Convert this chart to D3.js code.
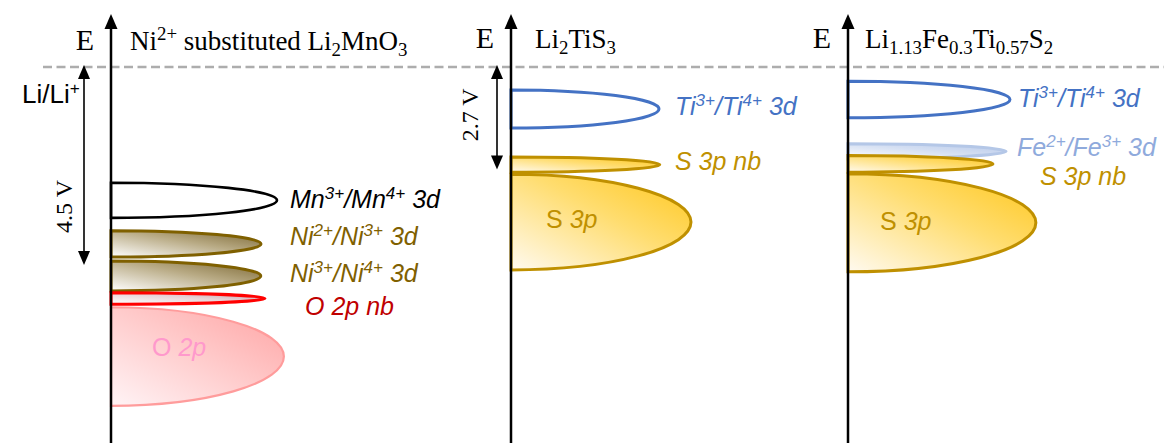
<!DOCTYPE html>
<html>
<head>
<meta charset="utf-8">
<script src="https://cdn.jsdelivr.net/npm/d3@7"></script>
<style>
  body { margin: 0; background: #fff; }
  svg { display: block; }
</style>
</head>
<body>
<svg id="chart" width="1164" height="443"></svg>
<script>
// ---- data ----------------------------------------------------------
// Rich-text markup: ^{..} superscript, _{..} subscript, *..* italic
const panelTitles = [
  "Ni^{2+} substituted Li_{2}MnO_{3}",
  "Li_{2}TiS_{3}",
  "Li_{1.13}Fe_{0.3}Ti_{0.57}S_{2}"
];
// cell voltage vs Li/Li+ (V), null = no arrow
const cellVoltages = [4.5, 2.7, null];
// energy (V) at which each voltage label is centred
const voltageLabelAt = [3.17, 1.26, null];

// band labels per panel
const bandNames = [
  ["*Mn^{3+}/Mn^{4+} 3d*", "*Ni^{2+}/Ni^{3+} 3d*", "*Ni^{3+}/Ni^{4+} 3d*", "*O 2p nb*", "O *2p*"],
  ["*Ti^{3+}/Ti^{4+} 3d*", "*S 3p nb*", "S *3p*"],
  ["*Ti^{3+}/Ti^{4+} 3d*", "*Fe^{2+}/Fe^{3+} 3d*", "*S 3p nb*", "S *3p*"]
];
// band kinds (select fill / stroke / label colour)
const bandKinds = [
  ["mn", "ni", "ni", "onb", "o2p"],
  ["ti", "snb", "s3p"],
  ["ti", "fe", "snb", "s3p"]
];
// band centre, energy below Li/Li+ (V)
const bandCenters = [
  [3.03, 4.02, 4.75, 5.26, 6.58],
  [1.105, 2.57, 4.08],
  [0.855, 2.22, 2.55, 4.10]
];
// band half-spread in energy (V)
const bandSpreads = [
  [0.40, 0.30, 0.34, 0.13, 1.12],
  [0.50, 0.20, 1.26],
  [0.48, 0.20, 0.22, 1.29]
];
// relative density-of-states extent
const bandDos = [
  [0.83, 0.75, 0.75, 0.77, 0.865],
  [0.74, 0.745, 0.90],
  [0.81, 0.79, 0.725, 0.94]
];
// label anchor: baseline energy (V)
const labelEnergy = [
  [3.20, 4.05, 4.89, 5.63, 6.56],
  [1.26, 2.71, 4.24],
  [1.05, 2.34, 3.10, 4.29]
];

// ---- layout --------------------------------------------------------
const W = 1164, H = 443;
const svg = d3.select("#chart");
const defs = svg.append("defs");
const refY = 67;                        // Li/Li+ level
const axisX = [111, 511, 848];          // energy axis of each panel
const pxPerVolt = [44, 38, 38];
const titleDx = [19, 24, 17];
const titleY = [50, 48, 48];
const voltArrowDx = [27, 14];
const voltTextDx = [12, 19];
const labelDx = [
  [179, 179, 179, 194, 41],
  [164, 164, 35],
  [170, 169, 192, 32]
];
const serif = "'Liberation Serif','Times New Roman',serif";
const sans = "'Liberation Sans',Arial,sans-serif";

const styles = {
  mn:  { fill: "#fff", stroke: "#000000", sw: 2.6, label: "#000000" },
  ni:  { grad: ["#7a6530", "#b8aa84", "#ffffff"], stroke: "#7f6000", sw: 3, label: "#7f6000" },
  onb: { grad: ["#c89aa4", "#e6d2d6", "#ffffff"], stroke: "#ff0000", sw: 3, label: "#c00000" },
  o2p: { grad: ["#ffa3a3", "#ffc8c8", "#fff4f6"], stroke: "#ff9c9c", sw: 2.2, label: "#ff99cc" },
  ti:  { fill: "#fff", stroke: "#4472c4", sw: 3, label: "#4472c4" },
  fe:  { grad: ["#b7c9ea", "#d3def2", "#ffffff"], stroke: "#b4c7e7", sw: 3.2, label: "#8faadc", blur: true },
  snb: { grad: ["#ffc61a", "#ffdd70", "#fffaf0"], stroke: "#bf9000", sw: 3, label: "#bf9000" },
  s3p: { grad: ["#ffc61a", "#ffdd70", "#fffaf0"], stroke: "#bf9000", sw: 3, label: "#bf9000" }
};

// diagonal gradients (dark top-right -> light bottom-left)
Object.entries(styles).forEach(([k, s]) => {
  if (!s.grad) return;
  const g = defs.append("linearGradient").attr("id", "g-" + k)
    .attr("x1", 1).attr("y1", 0).attr("x2", 0).attr("y2", 1);
  g.append("stop").attr("offset", 0).attr("stop-color", s.grad[0]);
  g.append("stop").attr("offset", 0.45).attr("stop-color", s.grad[1]);
  g.append("stop").attr("offset", 1).attr("stop-color", s.grad[2]);
});
defs.append("filter").attr("id", "soft")
  .attr("x", -0.1).attr("y", -0.5).attr("width", 1.2).attr("height", 2)
  .append("feGaussianBlur").attr("stdDeviation", 0.55);

// rich text writer
function rich(textSel, str, size, scriptScale = 0.66) {
  let italic = false, cur = 0;
  str.split("*").forEach((chunk, i) => {
    if (i > 0) italic = !italic;
    const re = /\^\{([^}]*)\}|_\{([^}]*)\}|([^^_]+)/g;
    let m;
    while ((m = re.exec(chunk)) !== null) {
      let t, shift = 0, fs = size;
      if (m[1] !== undefined) { t = m[1]; shift = -0.36 * size; fs = scriptScale * size; }
      else if (m[2] !== undefined) { t = m[2]; shift = 0.24 * size; fs = scriptScale * size; }
      else t = m[3];
      textSel.append("tspan")
        .attr("dy", shift - cur)
        .attr("font-size", fs)
        .attr("font-style", italic ? "italic" : "normal")
        .text(t);
      cur = shift;
    }
  });
}

function arrowHead(g, x, y, dir, w, h, color) {
  // dir: -1 up, +1 down; (x,y) is the tip
  g.append("path")
    .attr("d", `M${x},${y} L${x - w / 2},${y - dir * h} L${x + w / 2},${y - dir * h} Z`)
    .attr("fill", color);
}

// Li/Li+ reference (dashed)
svg.append("line")
  .attr("x1", 43).attr("x2", W).attr("y1", refY).attr("y2", refY)
  .attr("stroke", "#adadad").attr("stroke-width", 2.5)
  .attr("stroke-dasharray", "9,4.5");

const dosScale = d3.scaleLinear().domain([0, 1]).range([0, 200]);

panelTitles.forEach((title, p) => {
  const g = svg.append("g");
  const x0 = axisX[p];
  const y = d3.scaleLinear().domain([0, 1]).range([refY, refY + pxPerVolt[p]]);

  // bands as half ellipses on the axis
  bandNames[p].forEach((name, i) => {
    const s = styles[bandKinds[p][i]];
    const cy = y(bandCenters[p][i]);
    const ry = y(bandSpreads[p][i]) - y(0);
    const rx = dosScale(bandDos[p][i]);
    g.append("path")
      .attr("d", `M${x0},${cy - ry} A${rx},${ry} 0 0 1 ${x0},${cy + ry} Z`)
      .attr("fill", s.grad ? `url(#g-${bandKinds[p][i]})` : s.fill)
      .attr("stroke", s.stroke)
      .attr("stroke-width", s.sw)
      .attr("filter", s.blur ? "url(#soft)" : null);
  });

  // band labels
  bandNames[p].forEach((name, i) => {
    const s = styles[bandKinds[p][i]];
    const t = g.append("text")
      .attr("x", x0 + labelDx[p][i])
      .attr("y", y(labelEnergy[p][i]))
      .attr("font-family", sans)
      .attr("fill", s.label);
    rich(t, name, 25, 0.68);
  });

  // energy axis with arrow
  g.append("line")
    .attr("x1", x0).attr("x2", x0).attr("y1", H + 2).attr("y2", 26)
    .attr("stroke", "#000").attr("stroke-width", 2.5);
  arrowHead(g, x0, 14, -1, 13, 15, "#000");

  // axis name
  g.append("text")
    .attr("x", x0 - 17).attr("y", titleY[p])
    .attr("text-anchor", "end")
    .attr("font-family", serif).attr("font-size", 30)
    .text("E");

  // panel title
  const tt = g.append("text")
    .attr("x", x0 + titleDx[p]).attr("y", titleY[p])
    .attr("font-family", serif).attr("fill", "#000");
  rich(tt, title, 27, 0.7);

  // cell voltage double arrow
  const v = cellVoltages[p];
  if (v !== null) {
    const ax = x0 - voltArrowDx[p];
    const yTop = y(0) - 2, yBot = y(v);
    g.append("line")
      .attr("x1", ax).attr("x2", ax).attr("y1", yTop + 12).attr("y2", yBot - 12)
      .attr("stroke", "#000").attr("stroke-width", 1.6);
    arrowHead(g, ax, yTop, -1, 12, 14, "#000");
    arrowHead(g, ax, yBot, 1, 12, 14, "#000");
    g.append("text")
      .attr("transform", `translate(${ax - voltTextDx[p]},${y(voltageLabelAt[p])}) rotate(-90)`)
      .attr("text-anchor", "middle")
      .attr("font-family", serif).attr("font-size", 24)
      .text(`${v} V`);
  }
});

// Li/Li+ reference label
const li = svg.append("text")
  .attr("x", 22).attr("y", 103)
  .attr("font-family", sans).attr("fill", "#000");
rich(li, "Li/Li^{+}", 26);
</script>
</body>
</html>
